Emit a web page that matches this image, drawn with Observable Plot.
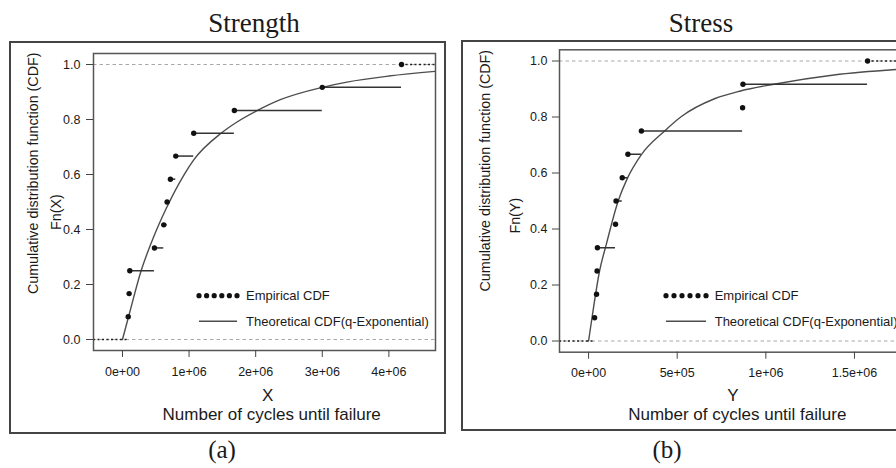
<!DOCTYPE html>
<html><head><meta charset="utf-8">
<script src="https://cdn.jsdelivr.net/npm/d3@7"></script>
<script src="https://cdn.jsdelivr.net/npm/@observablehq/plot@0.6"></script>
<style>
html,body{margin:0;padding:0;background:#fff;}
#page{position:relative;width:896px;height:468px;overflow:hidden;background:#fff;}
.wrap{position:absolute;top:0;}
.box{position:absolute;border:2px solid #444;box-sizing:border-box;}
#overlay{position:absolute;left:0;top:0;pointer-events:none;}
</style></head><body><div id="page"></div>
<script>
// ---------- data ----------
const yTicks = [0, 0.2, 0.4, 0.6, 0.8, 1.0];
const yTickLabels = ["0.0", "0.2", "0.4", "0.6", "0.8", "1.0"];

const strengthTicks = [0, 1e6, 2e6, 3e6, 4e6];
const strengthTickLabels = ["0e+00", "1e+06", "2e+06", "3e+06", "4e+06"];
const stressTicks = [0, 5e5, 1e6, 1.5e6];
const stressTickLabels = ["0e+00", "5e+05", "1e+06", "1.5e+06"];

// empirical CDF levels (12 observations)
const ecdfLevels = [0.083, 0.167, 0.25, 0.333, 0.417, 0.5, 0.583, 0.667, 0.75, 0.833, 0.917, 1.0];
// observed cycles until failure
const strengthCycles = [0.086e6, 0.10e6, 0.11e6, 0.48e6, 0.62e6, 0.67e6, 0.72e6, 0.80e6, 1.07e6, 1.68e6, 3.0e6, 4.19e6];
const stressCycles = [0.034e6, 0.045e6, 0.048e6, 0.050e6, 0.152e6, 0.155e6, 0.190e6, 0.222e6, 0.298e6, 0.869e6, 0.871e6, 1.574e6];

// theoretical q-Exponential CDF
const strengthCurveCycles = [0, 0.11e6, 0.28e6, 0.43e6, 0.66e6, 0.92e6, 1.07e6, 1.48e6, 1.72e6, 2.02e6, 2.37e6, 3.0e6, 3.37e6, 4.0e6, 4.70e6];
const strengthCurveF      = [0, 0.10, 0.25, 0.35, 0.478, 0.597, 0.653, 0.75, 0.791, 0.832, 0.872, 0.917, 0.936, 0.958, 0.975];
const stressCurveCycles = [0, 0.021e6, 0.062e6, 0.10e6, 0.167e6, 0.218e6, 0.295e6, 0.429e6, 0.52e6, 0.714e6, 0.857e6, 1.045e6, 1.384e6, 1.771e6];
const stressCurveF      = [0, 0.09, 0.25, 0.345, 0.5, 0.58, 0.663, 0.75, 0.80, 0.866, 0.893, 0.917, 0.95, 0.971];

const strengthXDomain = [-0.435e6, 4.70e6];
const stressXDomain = [-0.164e6, 1.771e6];
const yDomain = [-0.04, 1.04];

// ---------- drawing ----------
const page = document.getElementById("page");

function panel(cfg) {
  const pts = cfg.cycles.map((x, i) => ({x, f: ecdfLevels[i]}));
  const steps = pts.slice(0, -1).map((p, i) => ({x1: p.x, x2: pts[i + 1].x, f: p.f}));
  const tails = [
    {x1: cfg.domain[0], x2: pts[0].x, f: 0},
    {x1: pts[pts.length - 1].x, x2: cfg.domain[1], f: 1}
  ];
  const curve = cfg.curveX.map((x, i) => ({x, f: cfg.curveF[i]}));
  const svg = Plot.plot({
    width: cfg.width,
    height: 468,
    marginLeft: cfg.ml, marginRight: cfg.mr, marginTop: cfg.mt, marginBottom: cfg.mb,
    x: {domain: cfg.domain},
    y: {domain: yDomain},
    style: {fontFamily: "'Liberation Sans', Arial, sans-serif", fontSize: "12.5px", color: "#1a1a1a", background: "transparent", overflow: "visible"},
    marks: [
      Plot.ruleY([0, 1], {stroke: "#a8a8a8", strokeDasharray: "3.5,3", strokeWidth: 1}),
      Plot.line(curve, {x: "x", y: "f", stroke: "#4d4d4d", strokeWidth: 1.4, curve: "monotone-x", clip: true}),
      Plot.ruleY(steps, {y: "f", x1: "x1", x2: "x2", stroke: "#333", strokeWidth: 1.5}),
      Plot.ruleY(tails, {y: "f", x1: "x1", x2: "x2", stroke: "#222", strokeWidth: 1.6, strokeDasharray: "2,2.5"}),
      Plot.dot(pts, {x: "x", y: "f", r: 2.7, fill: "#111", stroke: "none"}),
      Plot.frame({stroke: "#555", strokeWidth: 1.5}),
      Plot.axisX({ticks: cfg.ticks, tickFormat: d => cfg.tickLabels[cfg.ticks.indexOf(d)], tickSize: 7, tickPadding: cfg.xpad, fontSize: 12.5, label: null, stroke: "#444"}),
      Plot.axisY({ticks: yTicks, tickFormat: d => yTickLabels[yTicks.indexOf(d)], tickSize: 7, tickPadding: cfg.ypad, fontSize: 12.5, label: null, stroke: "#444"})
    ]
  });
  const wrap = document.createElement("div");
  wrap.className = "wrap";
  wrap.style.left = cfg.left + "px";
  wrap.style.width = cfg.width + "px";
  wrap.appendChild(svg);
  page.appendChild(wrap);
}

// outer boxes
function box(l, t, w, h) {
  const d = document.createElement("div");
  d.className = "box";
  Object.assign(d.style, {left: l + "px", top: t + "px", width: w + "px", height: h + "px"});
  page.appendChild(d);
}
box(9, 41, 437, 393);
box(461, 40, 460, 391);

panel({left: 0, width: 448, ml: 93, mr: 13, mt: 53, mb: 118, domain: strengthXDomain,
  cycles: strengthCycles, curveX: strengthCurveCycles, curveF: strengthCurveF,
  ticks: strengthTicks, tickLabels: strengthTickLabels, xpad: 10, ypad: 6});
panel({left: 448, width: 460, ml: 111, mr: 6, mt: 49.3, mb: 116.3, domain: stressXDomain,
  cycles: stressCycles, curveX: stressCurveCycles, curveF: stressCurveF,
  ticks: stressTicks, tickLabels: stressTickLabels, xpad: 8.5, ypad: 5});

// overlay texts and legends
const ov = d3.select(page).append("svg").attr("id", "overlay").attr("width", 896).attr("height", 468);
const sans = "'Liberation Sans', Arial, sans-serif";
const serif = "'Liberation Serif', 'Times New Roman', serif";
function txt(s, x, y, size, family, anchor = "middle", rot = 0) {
  const t = ov.append("text").text(s).attr("font-family", family).attr("font-size", size)
    .attr("fill", "#1a1a1a").attr("text-anchor", anchor);
  if (rot) t.attr("transform", `translate(${x},${y}) rotate(${rot})`);
  else t.attr("x", x).attr("y", y);
}
txt("Strength", 254, 31.5, 27, serif);
txt("Stress", 701, 32, 27, serif);
txt("(a)", 222, 458, 25, serif);
txt("(b)", 667, 458, 25, serif);

txt("X", 267.7, 401, 17, sans);
txt("Number of cycles until failure", 271.7, 419.5, 17, sans);
txt("Y", 733, 401, 17, sans);
txt("Number of cycles until failure", 737.3, 419.5, 17, sans);

txt("Cumulative distribution function (CDF)", 37.5, 173.3, 14.3, sans, "middle", -90);
txt("Fn(X)", 60.5, 212, 14.3, sans, "middle", -90);
txt("Cumulative distribution function (CDF)", 490, 170.7, 14.3, sans, "middle", -90);
txt("Fn(Y)", 520, 215.7, 14.3, sans, "middle", -90);

function legend(x0, x1, tx) {
  for (let i = 0; i < 6; i++) {
    ov.append("circle").attr("cx", x0 + (x1 - x0) * i / 5).attr("cy", 295.7).attr("r", 2.6).attr("fill", "#111");
  }
  ov.append("line").attr("x1", x0).attr("x2", x1).attr("y1", 321.3).attr("y2", 321.3).attr("stroke", "#4d4d4d").attr("stroke-width", 1.4);
  txt("Empirical CDF", tx, 300.3, 13, sans, "start");
  txt("Theoretical CDF(q-Exponential)", tx, 325.8, 13, sans, "start");
}
legend(199, 237, 246);
legend(666, 706, 714.7);
</script></body></html>
